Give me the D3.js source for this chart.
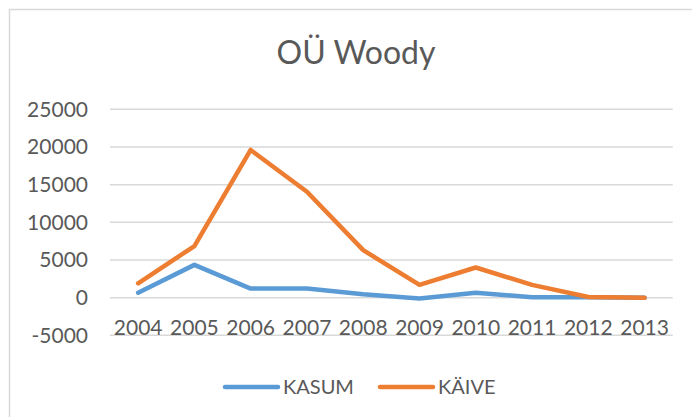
<!DOCTYPE html>
<html>
<head>
<meta charset="utf-8">
<script src="https://cdn.jsdelivr.net/npm/d3@7"></script>
<style>
  html, body { margin: 0; padding: 0; background: #fff; }
  svg { display: block; font-family: Lato, "Open Sans", sans-serif; }
</style>
</head>
<body>
<svg id="chart" width="692" height="417"></svg>
<script>
const title = "OÜ Woody";
const years = ["2004","2005","2006","2007","2008","2009","2010","2011","2012","2013"];
const kasum = [650, 4350, 1200, 1200, 450, -100, 650, 50, 50, 0];
const kaive = [1900, 6850, 19600, 14050, 6300, 1700, 4000, 1700, 80, 0];
const yTicks = [-5000, 0, 5000, 10000, 15000, 20000, 25000];
const seriesNames = ["KASUM", "KÄIVE"];
const colors = ["#5B9BD5", "#ED7D31"];

const svg = d3.select("#chart");
const textColor = "#595959";

// chart border
svg.append("rect")
  .attr("x", 9.5).attr("y", 9.5)
  .attr("width", 700).attr("height", 420)
  .attr("fill", "#fff").attr("stroke", "#D9D9D9").attr("stroke-width", 1.5);

const x = d3.scaleBand().domain(years).range([110, 672.7]);
const y = d3.scaleLinear().domain([-5000, 25000]).range([335.3, 109.3]);

// gridlines
svg.append("g").selectAll("line").data(yTicks).join("line")
  .attr("x1", 110).attr("x2", 672.7)
  .attr("y1", d => y(d)).attr("y2", d => y(d))
  .attr("stroke", "#D9D9D9").attr("stroke-width", 1.5);

// y axis labels
const yAxis = d3.axisLeft(y).tickValues(yTicks).tickSize(0).tickPadding(0)
  .tickFormat(d => String(d));
const yg = svg.append("g").attr("transform", "translate(88,0)").call(yAxis);
yg.select(".domain").remove();
yg.selectAll("text").attr("fill", textColor).style("font-size", "21px").style("font-family", "Lato");

// x axis labels (low position)
const xAxis = d3.axisBottom(x).tickSize(0).tickPadding(0);
const xg = svg.append("g").attr("transform", "translate(0,320)").call(xAxis);
xg.select(".domain").remove();
xg.selectAll("text").attr("fill", textColor).style("font-size", "21px").style("font-family", "Lato").attr("dy", "0.71em");

// lines
const line = d3.line().x((d, i) => x(years[i]) + x.bandwidth() / 2).y(d => y(d));
[kasum, kaive].forEach((data, i) => {
  svg.append("path").datum(data)
    .attr("d", line)
    .attr("fill", "none")
    .attr("stroke", colors[i])
    .attr("stroke-width", 4.5)
    .attr("stroke-linejoin", "round")
    .attr("stroke-linecap", "round");
});

// title
svg.append("text")
  .attr("x", 356).attr("y", 64)
  .attr("text-anchor", "middle")
  .attr("fill", textColor)
  .style("font-size", "32px")
  .style("font-family", "Lato")
  .text(title);

// legend
const legendItems = [{x: 223, tx: 283}, {x: 378, tx: 438}];
seriesNames.forEach((name, i) => {
  const g = svg.append("g");
  g.append("line")
    .attr("x1", legendItems[i].x + 2).attr("x2", legendItems[i].x + 55)
    .attr("y1", 387).attr("y2", 387)
    .attr("stroke", colors[i]).attr("stroke-width", 4.5).attr("stroke-linecap", "round");
  g.append("text")
    .attr("x", legendItems[i].tx).attr("y", 394)
    .attr("fill", textColor)
    .style("font-size", "20px").style("font-family", "Lato")
    .text(name);
});
</script>
</body>
</html>
